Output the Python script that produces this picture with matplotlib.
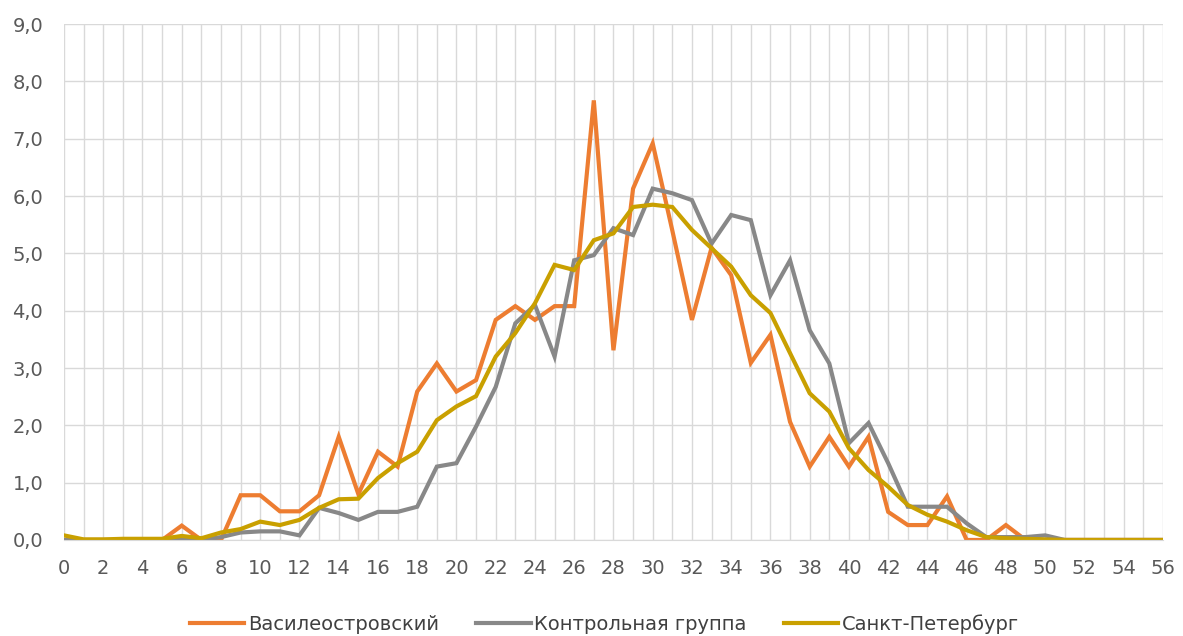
import matplotlib
matplotlib.use("Agg")
import matplotlib.pyplot as plt
from matplotlib.ticker import MultipleLocator, FuncFormatter

x_vals = list(range(0, 57))

vasileostrovsky = [0.0, 0.0, 0.0, 0.0, 0.0, 0.0, 0.25, 0.0, 0.0, 0.78,
                   0.78, 0.5, 0.5, 0.78, 1.8, 0.8, 1.54, 1.28, 2.59, 3.08,
                   2.59, 2.79, 3.84, 4.08, 3.84, 4.08, 4.08, 7.67, 3.31, 6.13,
                   6.92, 5.4, 3.84, 5.1, 4.62, 3.09, 3.58, 2.06, 1.28, 1.8,
                   1.28, 1.8, 0.49, 0.26, 0.26, 0.76, 0.0, 0.0, 0.26, 0.0,
                   0.0, 0.0, 0.0, 0.0, 0.0, 0.0, 0.0]

control_group = [0.0, 0.0, 0.0, 0.0, 0.0, 0.0, 0.0, 0.0, 0.05, 0.13,
                 0.15, 0.15, 0.08, 0.56, 0.47, 0.35, 0.49, 0.49, 0.58, 1.28,
                 1.34, 1.98, 2.67, 3.78, 4.1, 3.2, 4.88, 4.97, 5.44, 5.32,
                 6.13, 6.05, 5.93, 5.17, 5.67, 5.58, 4.27, 4.88, 3.66, 3.08,
                 1.69, 2.04, 1.34, 0.58, 0.58, 0.58, 0.29, 0.05, 0.05, 0.05,
                 0.08, 0.0, 0.0, 0.0, 0.0, 0.0, 0.0]

saint_petersburg = [0.08, 0.01, 0.01, 0.02, 0.02, 0.02, 0.07, 0.03, 0.13, 0.19,
                    0.32, 0.26, 0.35, 0.56, 0.71, 0.72, 1.08, 1.34, 1.54, 2.09,
                    2.33, 2.51, 3.2, 3.61, 4.13, 4.8, 4.71, 5.23, 5.35, 5.81,
                    5.85, 5.81, 5.41, 5.09, 4.77, 4.27, 3.96, 3.26, 2.56, 2.24,
                    1.6, 1.22, 0.93, 0.61, 0.44, 0.32, 0.17, 0.05, 0.03, 0.02,
                    0.01, 0.0, 0.0, 0.0, 0.0, 0.0, 0.0]

series_names = ["Василеостровский", "Контрольная группа", "Санкт-Петербург"]
colors = ["#ED7D31", "#888888", "#C9A000"]

plt.rcParams["font.family"] = ["DejaVu Sans"]

fig = plt.figure(figsize=(11.83, 6.36), dpi=100)
ax = fig.add_axes([0.0541, 0.151, 0.9289, 0.811])

for data, name, c in zip([vasileostrovsky, control_group, saint_petersburg], series_names, colors):
    ax.plot(x_vals, data, color=c, lw=3.0, label=name, solid_joinstyle="miter")

ax.set_xlim(0, 56)
ax.set_ylim(0, 9)
ax.xaxis.set_major_locator(MultipleLocator(2))
ax.xaxis.set_minor_locator(MultipleLocator(1))
ax.yaxis.set_major_locator(MultipleLocator(1))
ax.yaxis.set_major_formatter(FuncFormatter(lambda v, p: f"{v:.1f}".replace(".", ",")))
ax.grid(True, which="both", axis="x", color="#D9D9D9", lw=1)
ax.grid(True, which="major", axis="y", color="#D9D9D9", lw=1)
ax.set_axisbelow(True)
for s in ["top", "right", "left"]:
    ax.spines[s].set_visible(False)
ax.spines["bottom"].set_color("#D9D9D9")
ax.tick_params(which="both", length=0, labelsize=14, colors="#595959")
ax.tick_params(axis="y", pad=15)
ax.tick_params(axis="x", pad=14)

leg = fig.legend(loc="center", bbox_to_anchor=(0.511, 12 / 636), ncol=3, frameon=False,
                 prop={"size": 14}, handlelength=2.8,
                 columnspacing=1.9, handletextpad=0.2)
for t in leg.get_texts():
    t.set_color("#404040")

fig.savefig("out.png", dpi=100)
